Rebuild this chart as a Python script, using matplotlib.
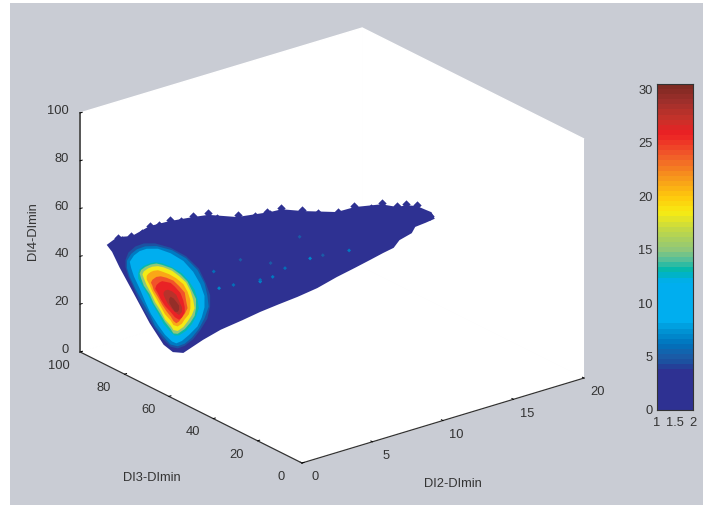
import numpy as np
import matplotlib
matplotlib.use('Agg')
import matplotlib.pyplot as plt
from matplotlib.colors import LinearSegmentedColormap, Normalize
from matplotlib.patches import Rectangle
from matplotlib.transforms import ScaledTranslation
from mpl_toolkits.mplot3d.art3d import Poly3DCollection

plt.rcParams['font.family']=['Liberation Sans','DejaVu Sans']
TXT='#333333'; FS=9.3

outer_di2=[0.5,1.1,1.9,2.9,4.0,5.3,6.2,7.8,9.7,10.3,11.5,13.4,14.4,15.9,16.8,17.3,17.9,18.4,18.7,18.9,18.4,17.8,17.6,16.9,16.6,16.0,15.3,14.4,13.4,12.3,11.2,10.1,9.1,8.1,6.9,5.9,4.8,4.2,3.7,2.9,2.0,1.2,0.8]
outer_di3=[91.2,90.2,88.8,87.1,85.2,83.0,81.6,78.9,75.8,74.6,72.7,69.5,67.8,65.2,63.8,62.9,61.9,61.2,60.5,60.3,61.2,62.1,62.4,63.5,64.2,65.1,66.4,67.8,69.5,71.3,73.2,75.1,76.7,78.3,80.5,82.1,84.0,84.9,85.9,87.1,88.7,89.9,90.7]
outer_di4=[48.0,50.7,50.3,53.5,54.5,54.9,54.9,52.4,52.6,53.2,51.2,48.9,50.0,49.7,47.6,47.9,46.9,44.8,43.6,40.6,39.4,38.3,35.9,33.7,30.7,29.2,27.0,24.5,21.7,18.2,15.6,13.4,11.4,9.0,6.1,2.9,-1.5,-0.5,3.0,12.9,26.4,38.0,44.8]

edge_di2=[1.1,1.4,1.9,2.5,2.9,3.4,4.0,4.6,5.3,6.2,6.7,7.9,8.8,9.5,9.7,10.3,11.5,12.3,13.4,14.4,15.3,15.9,16.8,17.3,17.9,18.2,18.7]
edge_di3=[90,90,89,88,87,86,85,84,83,82,81,79,77,76,76,75,73,71,69,68,66,65,64,63,62,61,61]
edge_di4=[50.3,49.2,50.3,51.0,53.5,53.5,54.9,53.9,55.3,55.3,53.1,53.2,51.8,52.8,51.8,53.7,51.7,49.6,49.3,50.4,48.7,50.2,48.1,48.3,47.4,43.7,41.9]

level_values=[4.5,6.5,9,13,15,18.5,21,24,26,28,29.5]
level_di3=[84,84,84,84,84,84,84,84,84,84,84]
level_di2=[[2.8,3.9,5.0,5.9,6.4,6.7,6.7,6.5,6.0,5.5,4.9,4.4,3.9,3.3,2.7,2.2,1.7,1.3,0.9,0.7,0.7,0.9,1.4,2.0],
[2.9,4.0,5.0,5.8,6.3,6.5,6.6,6.3,5.9,5.4,4.9,4.4,3.9,3.4,2.8,2.4,1.9,1.4,1.0,0.8,0.8,1.1,1.5,2.1],
[3.0,3.9,4.8,5.5,6.0,6.3,6.3,6.1,5.8,5.2,4.7,4.3,4.0,3.5,3.0,2.5,2.1,1.7,1.3,1.1,1.0,1.3,1.7,2.2],
[3.3,4.0,4.7,5.2,5.6,5.8,5.9,5.7,5.4,5.0,4.5,4.2,3.9,3.4,3.0,2.6,2.3,1.9,1.6,1.6,1.7,2.0,2.4,2.8],
[3.3,4.0,4.6,5.1,5.4,5.7,5.7,5.6,5.3,4.9,4.4,4.1,3.9,3.5,3.1,2.7,2.4,2.0,1.8,1.7,1.8,2.1,2.5,2.9],
[3.4,4.0,4.5,5.0,5.3,5.5,5.6,5.4,5.1,4.8,4.4,4.1,3.9,3.5,3.2,2.8,2.5,2.2,2.0,1.9,2.0,2.3,2.6,3.0],
[3.3,3.8,4.3,4.8,5.1,5.3,5.3,5.2,4.9,4.7,4.4,4.1,3.9,3.5,3.2,2.9,2.6,2.4,2.2,2.2,2.3,2.5,2.7,3.0],
[3.2,3.6,4.1,4.5,4.9,5.0,5.1,4.9,4.7,4.5,4.3,4.1,3.9,3.6,3.3,3.0,2.7,2.6,2.5,2.6,2.8,2.9],
[3.5,3.9,4.2,4.6,4.8,4.9,4.9,4.7,4.5,4.2,3.9,3.5,3.2,3.0,2.8,2.9,3.1,3.3],
[3.7,4.0,4.3,4.5,4.7,4.7,4.5,4.3,4.0,3.7,3.5,3.4,3.4,3.5],
[3.9,4.1,4.3,4.5,4.5,4.4,4.2,4.0,3.8,3.8]]
level_di4=[[47.9,44.1,38.6,31.8,24.8,19.3,14.5,9.8,5.9,3.0,1.3,1.1,2.7,7.3,13.3,19.3,25.4,31.7,37.4,41.6,44.7,47.4,49.1,49.3],
[46.6,42.9,37.7,31.5,25.0,19.6,14.7,10.3,6.6,3.8,2.2,2.0,3.6,7.8,13.3,19.1,25.1,31.4,37.1,41.2,44.2,46.5,47.7,47.9],
[45.3,41.8,37.0,31.2,25.2,19.7,14.9,11.0,7.8,5.3,3.7,3.4,4.7,8.4,13.4,18.9,24.7,31.0,36.7,40.6,43.4,45.5,46.6,46.7],
[38.7,35.8,32.0,27.8,23.5,19.2,15.3,12.1,9.5,7.4,6.4,6.8,8.8,13.2,18.3,22.9,27.2,31.6,35.3,37.6,39.0,39.9,40.2,40.0],
[38.0,35.3,31.7,27.8,23.7,19.5,15.6,12.6,10.3,8.3,7.2,7.9,10.1,13.8,18.4,22.9,27.4,31.6,35.1,37.2,38.5,39.3,39.6,39.3],
[36.8,34.3,31.2,27.6,23.6,19.5,15.8,13.2,11.1,9.3,8.4,9.3,11.5,14.8,18.9,23.3,27.6,31.5,34.7,36.5,37.6,38.3,38.5,38.0],
[35.2,33.2,30.6,27.3,23.6,19.7,16.2,14.0,12.4,10.9,10.3,11.4,13.7,17.0,20.7,24.5,28.1,31.3,33.9,35.3,36.0,36.5,36.6,36.3],
[33.4,32.1,30.0,27.0,23.6,19.9,16.7,14.7,13.5,12.2,11.8,13.1,15.4,18.1,21.3,25.1,28.5,30.6,32.0,33.0,33.5,33.7],
[30.6,29.4,27.3,23.9,20.4,17.5,15.3,13.5,12.9,14.5,17.2,20.5,23.8,26.6,28.9,30.3,31.0,31.2],
[26.9,25.7,23.7,20.7,17.8,15.8,14.9,16.0,18.2,21.0,23.7,25.3,26.2,26.9],
[23.6,22.6,20.8,18.8,17.1,16.4,16.8,18.9,21.3,22.9]]

speck_di2=[6.5,6.8,7.6,8.0,9.1,11.9,14.1,12.6,10.5,9.7,9.1,11.3,9.8]
speck_di3=[81.1,80.6,79.2,78.6,76.7,72.0,68.4,70.7,74.4,75.8,76.7,72.9,75.5]
speck_di4=[30.9,23.6,24.2,34.3,24.8,31.0,32.1,31.7,28.3,31.2,24.1,40.7,25.4]
speck_val=[6,7,6,5,6,7,6.5,5,6,5,7,5,6.5]

cb_pos=[0,3.5,4.2,5,6,7.5,8.2,12,13,14,15,17,18.5,20,22,24,26,27.5,29,30.5]
cb_col=['#2e3192','#2e3192','#1d4f9f','#1a5ea8','#0072bc','#0099d8','#00aeef','#00aeef','#00b8ad','#55bf9a','#8fc77a','#c4d944','#f7ec13','#ffc90d','#f7941d','#f1592a','#ed2024','#c5332a','#a0302c','#7f2a22']
cmap=LinearSegmentedColormap.from_list('mat',[(p/30.5,c) for p,c in zip(cb_pos,cb_col)],N=64)
norm=Normalize(0,30.5)

fig=plt.figure(figsize=(7.03,5.05),dpi=100,facecolor='white')
fig.patches.append(Rectangle((10/703,0),693/703,502/505,transform=fig.transFigure,facecolor='#c9ccd4',edgecolor='none',figure=fig,zorder=-5))
S=554
ax=fig.add_axes([47.6/703,-25/505,S/703,S/505],projection='3d',proj_type='ortho',facecolor='none',computed_zorder=False)
ax.view_init(elev=22.85,azim=232.2)
ax.set_box_aspect((357,362,259.4))
ax.set_xlim(0,20);ax.set_ylim(0,100);ax.set_zlim(0,100)
ax.set_xticks([0,5,10,15,20]);ax.set_yticks([0,20,40,60,80,100]);ax.set_zticks([0,20,40,60,80,100])
ax.grid(False)
for a in (ax.xaxis,ax.yaxis,ax.zaxis):
    a.set_pane_color('white'); a.pane.set_edgecolor('white')
    a.line.set_color('#333333'); a.line.set_linewidth(0.9)
    a._axinfo['tick'].update(inward_factor=0,outward_factor=0.09)
    a._axinfo['tick']['linewidth']={True:0.7,False:0.7}
    a._axinfo['tick']['color']='#333333'
ax.zaxis.line.set_color('#555555'); ax.zaxis.line.set_linewidth(1.4)
ax.tick_params(axis='both',labelsize=FS,labelcolor=TXT,pad=-3)
ax.tick_params(axis='z',labelsize=FS,labelcolor=TXT,pad=-1)
for t in ax.get_zticklabels(): t.set_ha('right')
def shift_labels(axis,dx,dy):
    orig=axis.get_major_ticks
    off=ScaledTranslation(dx/100,dy/100,fig.dpi_scale_trans)
    def gmt(numticks=None):
        ts=orig(numticks)
        for t in ts: t.label1.set_transform(ax.transData+off)
        return ts
    axis.get_major_ticks=gmt
shift_labels(ax.xaxis,8,0); shift_labels(ax.yaxis,-14,0); shift_labels(ax.zaxis,6,7)

def poly(xs,ys,zs,val,z):
    c=Poly3DCollection([list(zip(xs,ys,zs))],facecolors=[cmap(norm(val))],edgecolors='none',linewidths=0,zorder=z,shade=False)
    ax.add_collection3d(c)
poly(outer_di2,outer_di3,outer_di4,1,2)
ax.scatter(edge_di2,edge_di3,edge_di4,marker='D',s=18,c=[cmap(norm(1))],linewidths=0,depthshade=False,zorder=2)
ax.scatter(speck_di2,speck_di3,speck_di4,marker='D',s=4,c=speck_val,cmap=cmap,norm=norm,linewidths=0,depthshade=False,zorder=3)
for i,v in enumerate(level_values):
    poly(level_di2[i],[level_di3[i]]*len(level_di2[i]),level_di4[i],v,10+i)

fig.text(453/703,1-484/505,'DI2-DImin',ha='center',va='center',fontsize=FS,color=TXT)
fig.text(152/703,1-478/505,'DI3-DImin',ha='center',va='center',fontsize=FS,color=TXT)
fig.text(33/703,1-231/505,'DI4-DImin',ha='center',va='center',rotation=90,fontsize=FS,color=TXT)

cax=fig.add_axes([657/703,1-410/505,36/703,326/505])
grad=np.linspace(0,30.5,64).reshape(-1,1)
cax.imshow(grad,origin='lower',aspect='auto',extent=(1,2,0,30.5),cmap=cmap,norm=norm,interpolation='nearest')
cax.set_xticks([1,1.5,2]);cax.set_xticklabels(['1','1.5','2'])
cax.set_yticks([0,5,10,15,20,25,30])
cax.tick_params(length=0,labelsize=FS,labelcolor=TXT,pad=3)
cax.tick_params(axis='x',pad=5)
for s in cax.spines.values(): s.set_color('#333333'); s.set_linewidth(0.8)
fig.savefig('out.png',dpi=100)
